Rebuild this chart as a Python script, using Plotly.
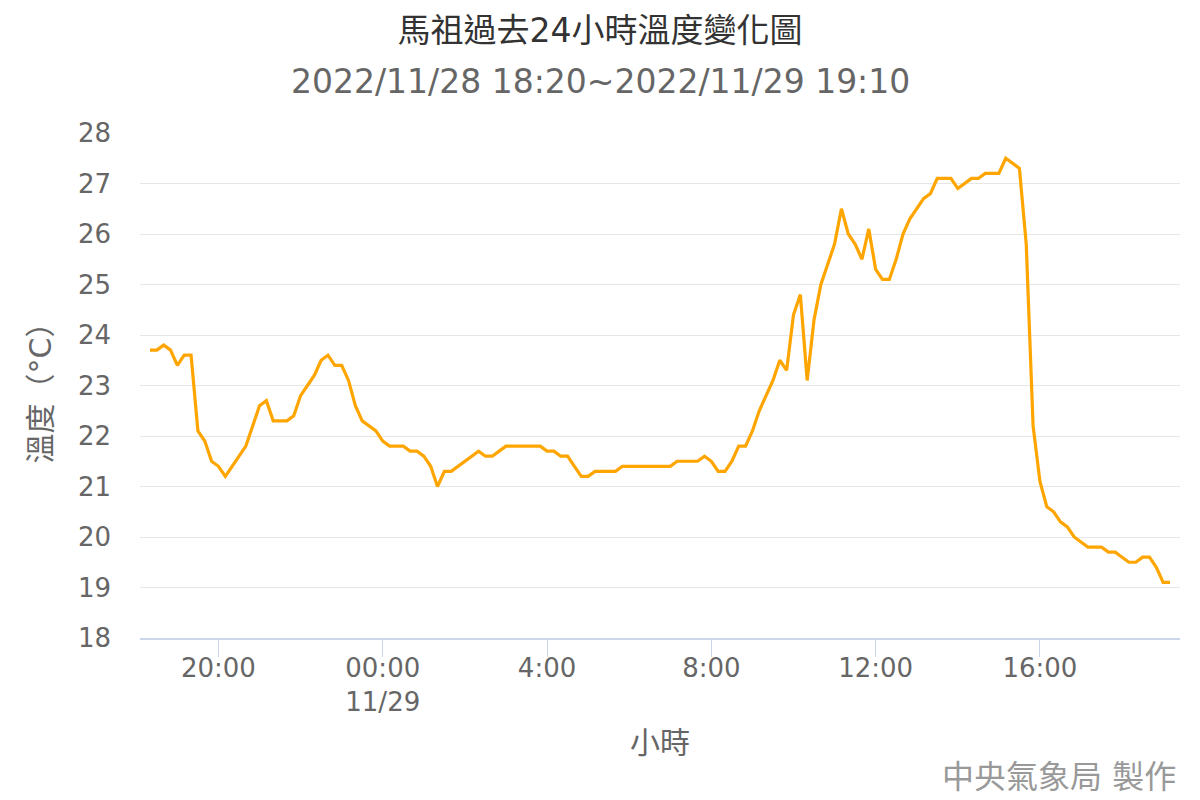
import pandas as pd
import plotly.graph_objects as go

start_time = "2022-11-28 18:20"
step = "10min"

temps = [
    23.7, 23.7, 23.8, 23.7, 23.4, 23.6, 23.6, 22.1, 21.9, 21.5, 21.4, 21.2,
    21.4, 21.6, 21.8, 22.2, 22.6, 22.7, 22.3, 22.3, 22.3, 22.4,
    22.8, 23.0, 23.2, 23.5, 23.6, 23.4, 23.4, 23.1, 22.6, 22.3, 22.2, 22.1,
    21.9, 21.8, 21.8, 21.8, 21.7, 21.7, 21.6, 21.4, 21.0, 21.3, 21.3, 21.4,
    21.5, 21.6, 21.7, 21.6, 21.6, 21.7, 21.8, 21.8, 21.8, 21.8, 21.8, 21.8,
    21.7, 21.7, 21.6, 21.6, 21.4, 21.2, 21.2, 21.3, 21.3, 21.3, 21.3, 21.4,
    21.4, 21.4, 21.4, 21.4, 21.4, 21.4, 21.4, 21.5, 21.5, 21.5, 21.5, 21.6,
    21.5, 21.3, 21.3, 21.5, 21.8, 21.8, 22.1, 22.5, 22.8, 23.1, 23.5, 23.3,
    24.4, 24.8, 23.1, 24.3, 25.0, 25.4, 25.8, 26.5, 26.0, 25.8, 25.5, 26.1,
    25.3, 25.1, 25.1, 25.5, 26.0, 26.3, 26.5, 26.7, 26.8, 27.1, 27.1, 27.1,
    26.9, 27.0, 27.1, 27.1, 27.2, 27.2, 27.2, 27.5, 27.4, 27.3, 25.8, 22.2,
    21.1, 20.6, 20.5, 20.3, 20.2, 20.0, 19.9, 19.8, 19.8, 19.8, 19.7, 19.7,
    19.6, 19.5, 19.5, 19.6, 19.6, 19.4, 19.1, 19.1,
]

times = pd.date_range(start=start_time, periods=len(temps), freq=step)

tick_vals = ["2022-11-28 20:00", "2022-11-29 00:00", "2022-11-29 04:00",
             "2022-11-29 08:00", "2022-11-29 12:00", "2022-11-29 16:00"]
tick_text = ["20:00", "00:00<br>11/29", "4:00", "8:00", "12:00", "16:00"]
y_ticks = list(range(18, 29))

title_text = "馬祖過去24小時溫度變化圖"
subtitle_text = "2022/11/28 18:20~2022/11/29 19:10"
x_title = "小時"
y_title = "溫度（°C）"
credit_text = "中央氣象局 製作"

FONT = "DejaVu Sans, Noto Sans CJK TC, sans-serif"

# plot area in pixels: x 140..1180, y 133..638
PL, PR, PT, PB = 140, 1180, 133, 638


def px_x(x):
    return (x - PL) / (PR - PL)


def px_y(y):
    return (PB - y) / (PB - PT)


fig = go.Figure()
fig.add_trace(go.Scatter(
    x=times, y=temps, mode="lines",
    line=dict(color="#ffa500", width=3.2),
    hoverinfo="x+y", showlegend=False,
))

fig.update_layout(
    width=1200, height=800,
    margin=dict(l=PL, r=1200 - PR, t=PT, b=800 - PB, autoexpand=False),
    paper_bgcolor="white", plot_bgcolor="white",
    font=dict(family=FONT, color="#666666", size=26),
    title=dict(text=title_text, x=0.5, xanchor="center", xref="container",
               y=1 - 30 / 800, yanchor="middle", yref="container",
               font=dict(size=33, color="#333333", family=FONT)),
    annotations=[
        dict(text=subtitle_text, xref="paper", yref="paper",
             x=px_x(600), y=px_y(82), xanchor="center", yanchor="middle",
             showarrow=False, font=dict(size=33, color="#666666", family=FONT)),
        dict(text=credit_text, xref="paper", yref="paper",
             x=px_x(1178), y=px_y(777), xanchor="right", yanchor="middle",
             showarrow=False, font=dict(size=32, color="#999999", family=FONT)),
    ],
    xaxis=dict(
        type="date", automargin=False,
        range=["2022-11-28 18:05:24", "2022-11-29 19:24:36"],
        tickvals=tick_vals, ticktext=tick_text,
        ticks="outside", ticklen=17, tickwidth=1, tickcolor="#ccd6eb",
        ticklabelstandoff=-11,
        showline=True, linecolor="#ccd6eb", linewidth=2,
        showgrid=False, zeroline=False,
        tickfont=dict(size=26, color="#666666"),
        title=dict(text=x_title, standoff=16, font=dict(size=30, color="#666666")),
    ),
    yaxis=dict(
        range=[18, 28], tickvals=y_ticks, automargin=False,
        showgrid=True, gridcolor="#e6e6e6", gridwidth=1,
        zeroline=False, showline=False, ticks="",
        ticklabelstandoff=28,
        tickfont=dict(size=26, color="#666666"),
        title=dict(text=y_title, standoff=17, font=dict(size=30, color="#666666")),
    ),
)

fig.write_html("out.html", config={"displayModeBar": False},
               post_script="document.body.style.margin='0';")
